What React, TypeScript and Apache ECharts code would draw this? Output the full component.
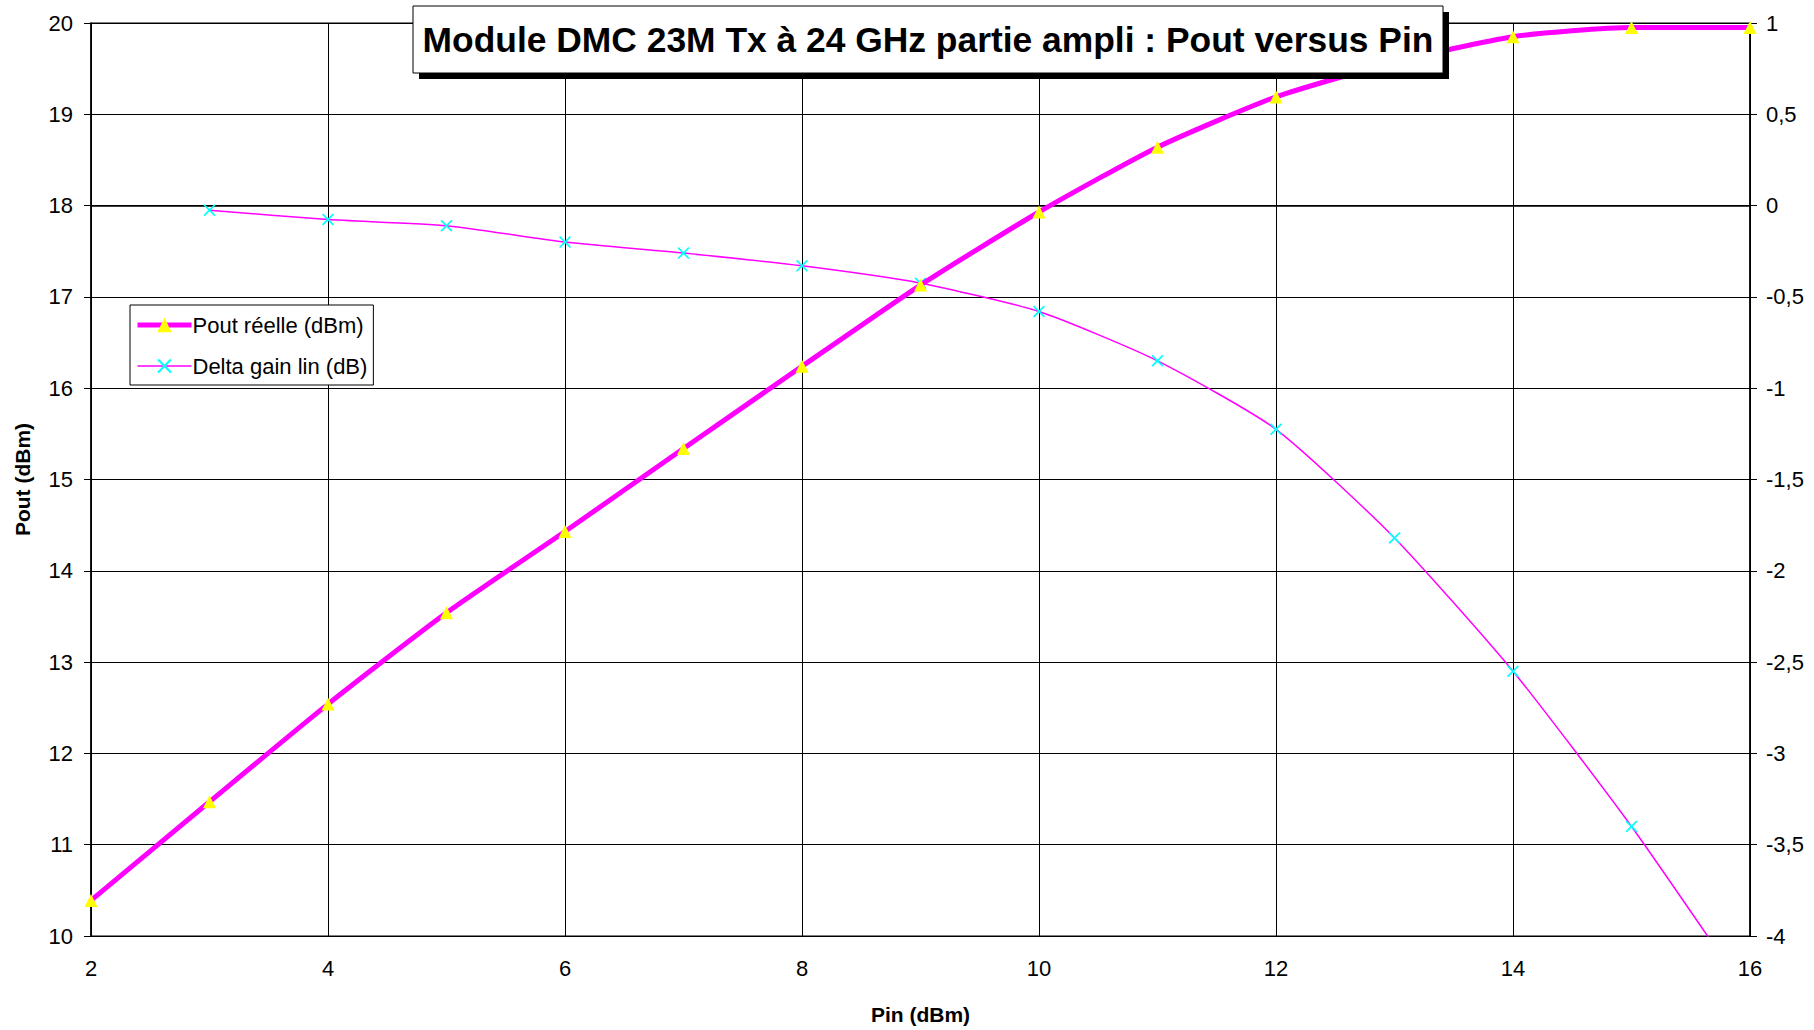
import React, { useEffect, useRef } from "react";
import * as echarts from "echarts";

const titleText = "Module DMC 23M Tx à 24 GHz partie ampli : Pout versus Pin";
const xAxisName = "Pin (dBm)";
const yAxisName = "Pout (dBm)";
const seriesNames = ["Pout réelle (dBm)", "Delta gain lin (dB)"];

const pinValues = [2, 3, 4, 5, 6, 7, 8, 9, 10, 11, 12, 13, 14, 15, 16];
const poutValues = [10.39, 11.47, 12.54, 13.54, 14.43, 15.34, 16.24, 17.13, 17.93, 18.64, 19.19, 19.57, 19.85, 19.95, 19.95];

const deltaPin = [3, 4, 5, 6, 7, 8, 9, 10, 11, 12, 13, 14, 15, 16];
const deltaValues = [-0.025, -0.076, -0.11, -0.2, -0.26, -0.33, -0.425, -0.58, -0.85, -1.225, -1.82, -2.55, -3.4, -4.34];

const FONT = "'Liberation Sans', Arial, sans-serif";
const X_SYMBOL = "path://M0,1L1,0L5,4L9,0L10,1L6,5L10,9L9,10L5,6L1,10L0,9L4,5Z";

export default function App() {
  const ref = useRef<HTMLDivElement>(null);
  useEffect(() => {
    if (!ref.current) return;
    const chart = echarts.init(ref.current, undefined, { renderer: "svg" });
    const fmt = (v: number) => String(v).replace(".", ",");
    chart.setOption({
      animation: false,
      backgroundColor: "#ffffff",
      textStyle: { fontFamily: FONT },
      grid: { left: 91, right: 64, top: 23, bottom: 93, show: true, borderColor: "#000", borderWidth: 1.2 },
      legend: {
        orient: "vertical",
        left: 130,
        top: 305,
        padding: [9, 6, 8, 5],
        itemGap: 19,
        itemWidth: 54,
        itemHeight: 18,
        backgroundColor: "#fff",
        borderColor: "#000",
        borderWidth: 1,
        textStyle: { fontSize: 22, color: "#000", fontFamily: FONT, padding: [0, 0, 0, -4] },
        data: [
          { name: seriesNames[0], lineStyle: { width: 5, color: "#FF00FF" } },
          { name: seriesNames[1], lineStyle: { width: 1.5, color: "#FF00FF" } },
        ],
      },
      xAxis: {
        type: "value",
        min: 2,
        max: 16,
        interval: 2,
        name: xAxisName,
        nameLocation: "middle",
        nameGap: 68,
        nameTextStyle: { fontSize: 21, fontWeight: "bold", color: "#000", fontFamily: FONT },
        axisLine: { lineStyle: { color: "#000", width: 1.5 } },
        axisTick: { show: true, length: 6, lineStyle: { color: "#000" } },
        axisLabel: { fontSize: 22, color: "#000", margin: 21, fontFamily: FONT },
        splitLine: { show: true, lineStyle: { color: "#000", width: 1 } },
      },
      yAxis: [
        {
          type: "value",
          min: 10,
          max: 20,
          interval: 1,
          name: yAxisName,
          nameLocation: "middle",
          nameGap: 58,
          nameTextStyle: { fontSize: 21, fontWeight: "bold", color: "#000", fontFamily: FONT },
          axisLine: { show: true, lineStyle: { color: "#000", width: 1.5 } },
          axisTick: { show: true, length: 7, lineStyle: { color: "#000" } },
          axisLabel: { fontSize: 22, color: "#000", margin: 18, fontFamily: FONT },
          splitLine: { show: true, lineStyle: { color: "#000", width: 1 } },
        },
        {
          type: "value",
          min: -4,
          max: 1,
          interval: 0.5,
          position: "right",
          axisLine: { show: true, lineStyle: { color: "#000", width: 1.5 } },
          axisTick: { show: true, length: 7, lineStyle: { color: "#000" } },
          axisLabel: { fontSize: 22, color: "#000", margin: 16, fontFamily: FONT, formatter: fmt },
          splitLine: { show: false },
        },
      ],
      series: [
        {
          name: seriesNames[0],
          type: "line",
          yAxisIndex: 0,
          smooth: 0.2,
          data: pinValues.map((x, i) => [x, poutValues[i]]),
          lineStyle: { color: "#FF00FF", width: 5 },
          symbol: "triangle",
          symbolSize: 13,
          itemStyle: { color: "#FFFF00", borderWidth: 0 },
          z: 3,
        },
        {
          name: seriesNames[1],
          type: "line",
          yAxisIndex: 1,
          smooth: 0.2,
          data: deltaPin.map((x, i) => [x, deltaValues[i]]),
          lineStyle: { color: "#FF00FF", width: 1.5 },
          symbol: X_SYMBOL,
          symbolSize: 12,
          itemStyle: { color: "#00FFFF", borderWidth: 0 },
          z: 2,
        },
      ],
      graphic: {
        zlevel: 1,
        elements: [
          { type: "rect", z: 100, zlevel: 1, shape: { x: 419, y: 12, width: 1030, height: 67 }, style: { fill: "#000" } },
          { type: "rect", z: 101, zlevel: 1, shape: { x: 413, y: 6, width: 1030, height: 67 }, style: { fill: "#fff", stroke: "#000", lineWidth: 1 } },
          {
            type: "text",
            z: 102,
            zlevel: 1,
            x: 928,
            y: 40,
            style: {
              text: titleText,
              fill: "#000",
              font: `bold 35.4px ${FONT}`,
              textAlign: "center",
              textVerticalAlign: "middle",
            },
          },
        ],
      },
    });
    return () => chart.dispose();
  }, []);
  return <div ref={ref} style={{ position: "absolute", left: 0, top: 0, width: 1814, height: 1030 }} />;
}
